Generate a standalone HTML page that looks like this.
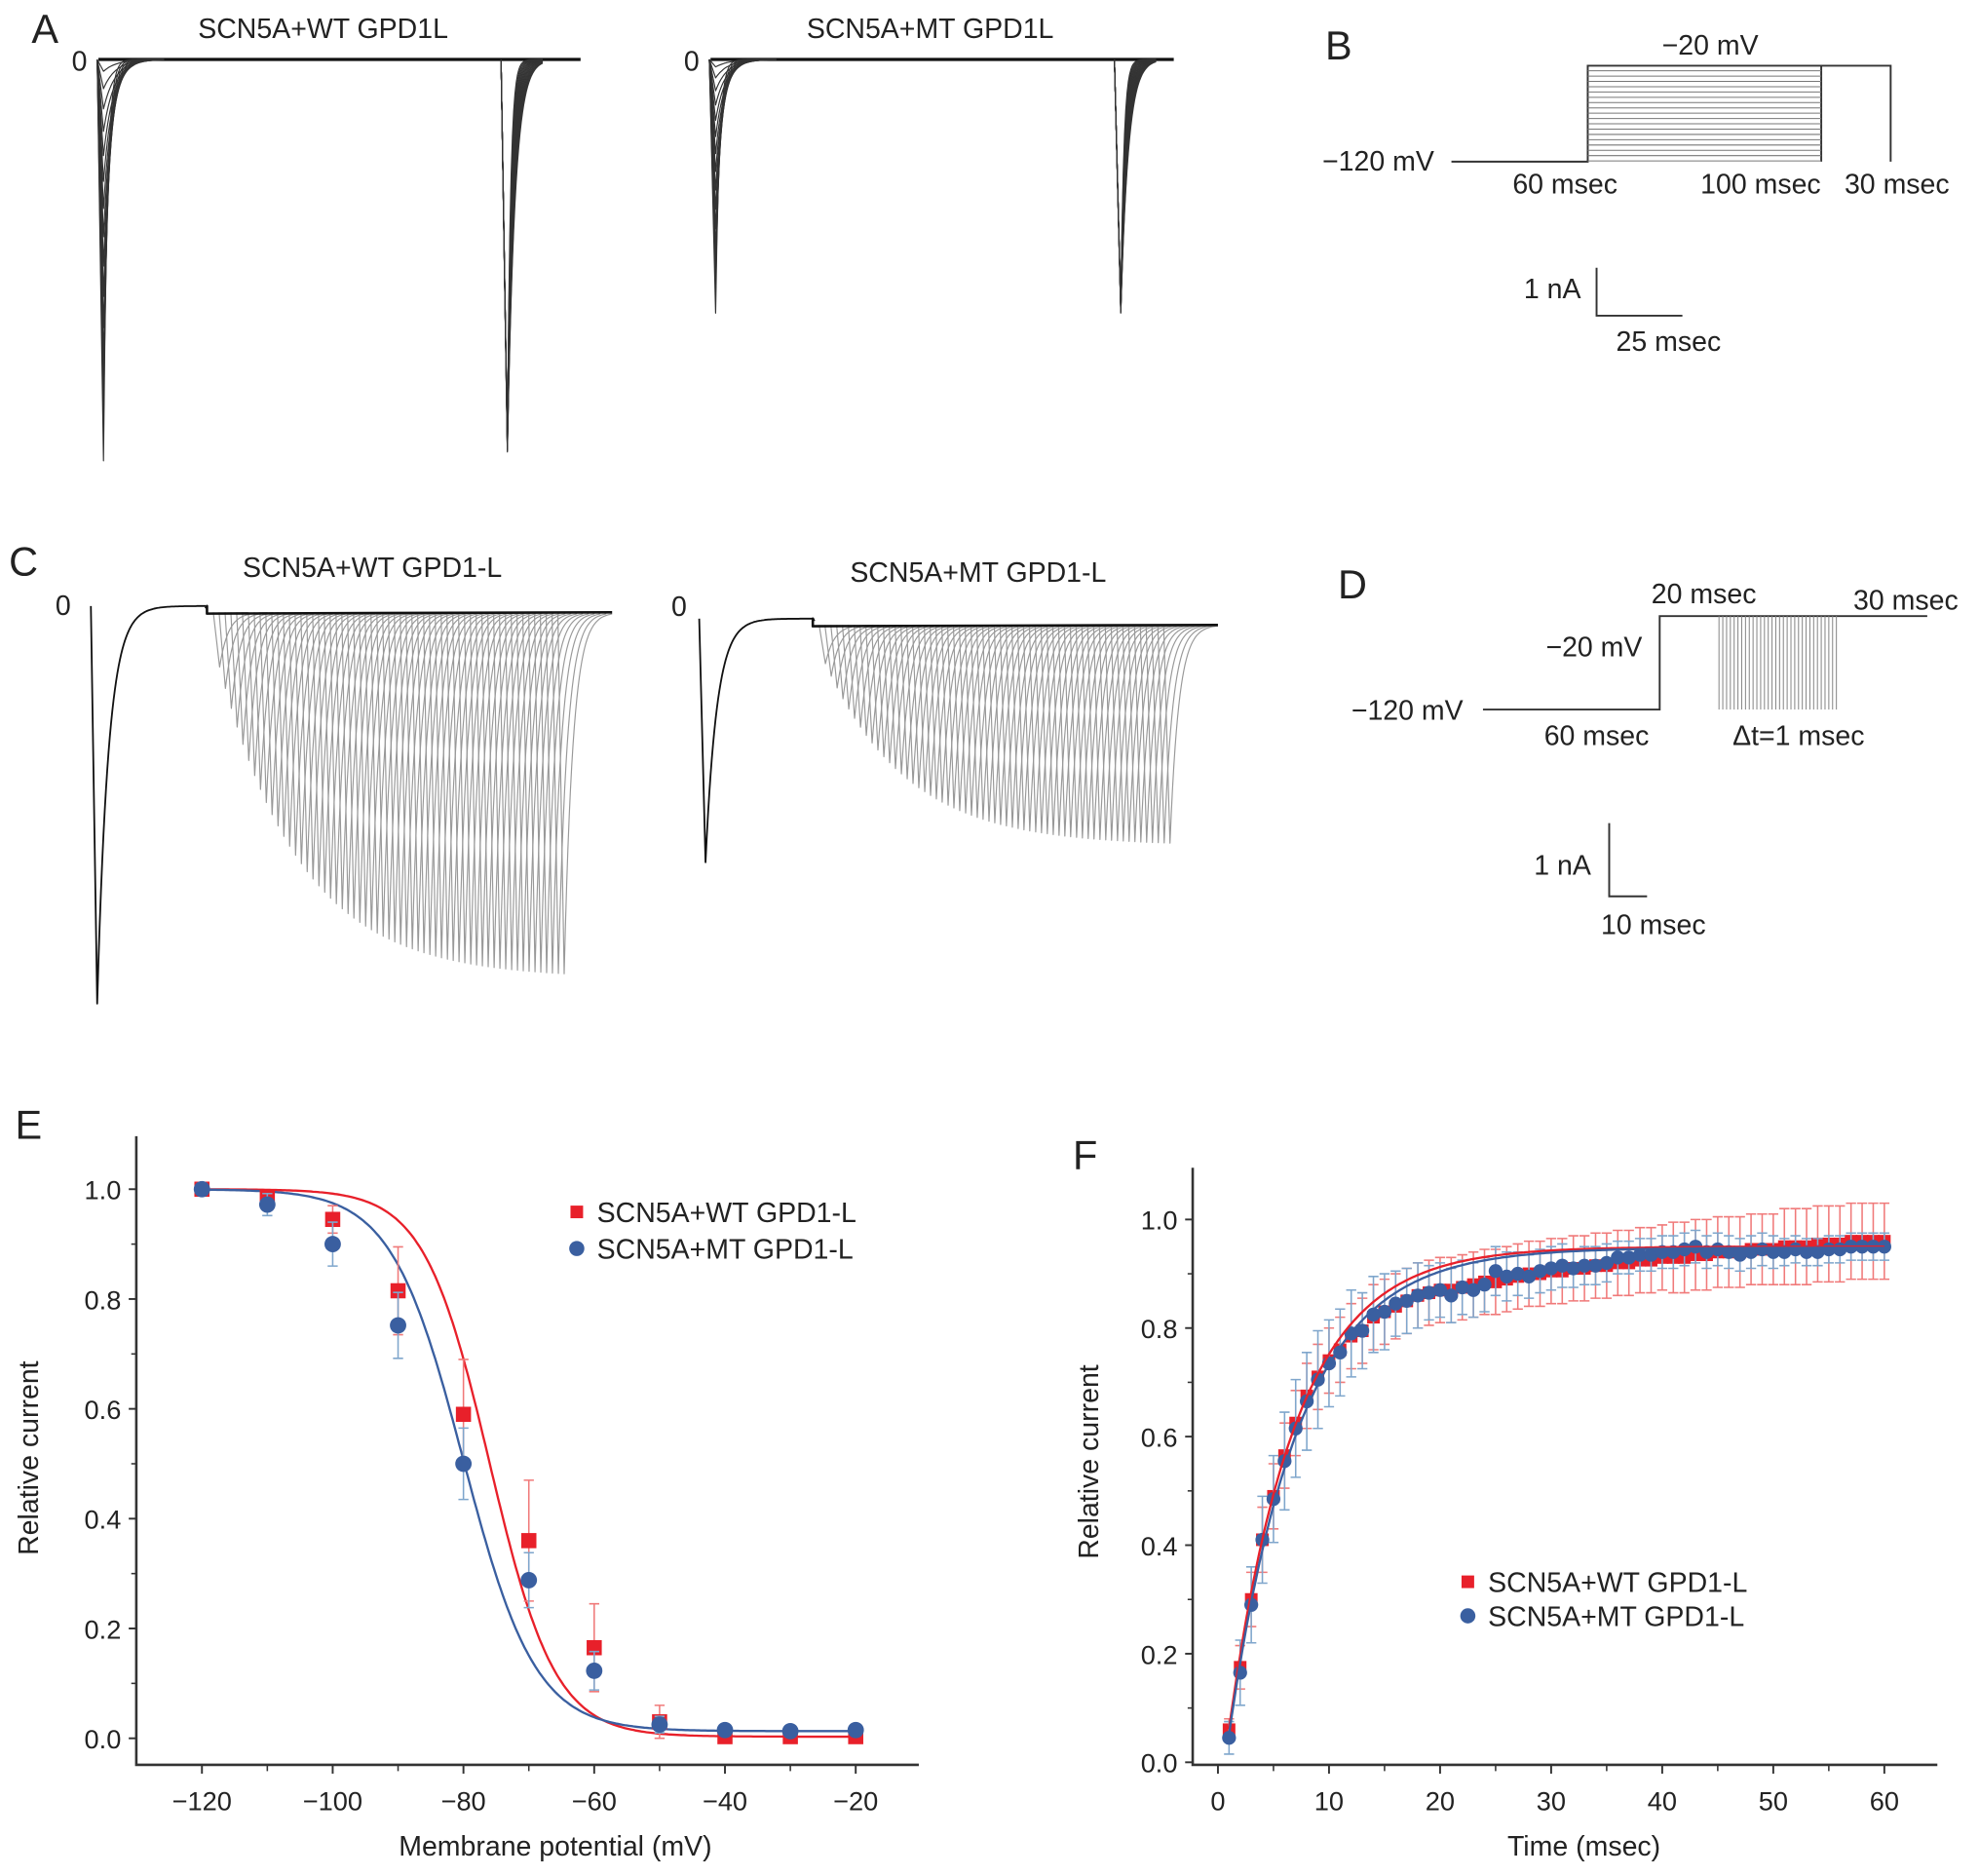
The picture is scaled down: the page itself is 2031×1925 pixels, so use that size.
<!DOCTYPE html>
<html><head><meta charset="utf-8"><style>
html,body{margin:0;padding:0;background:#fff}
svg{display:block}
text{font-family:"Liberation Sans",sans-serif;fill:#222}
</style></head><body>
<svg id="fig" width="2031" height="1925" viewBox="0 0 1568 1486" xmlns="http://www.w3.org/2000/svg">
<g id="letters" font-size="32">
<text x="25" y="34">A</text>
<text x="1050" y="47">B</text>
<text x="7" y="456">C</text>
<text x="1060" y="474">D</text>
<text x="12" y="902">E</text>
<text x="850" y="926">F</text>
</g>
<g id="titles" font-size="22" text-anchor="middle">
<text x="256" y="30">SCN5A+WT GPD1L</text>
<text x="737" y="30">SCN5A+MT GPD1L</text>
<text x="295" y="457">SCN5A+WT GPD1-L</text>
<text x="775" y="461">SCN5A+MT GPD1-L</text>
<text x="63" y="56">0</text>
<text x="548" y="56">0</text>
<text x="50" y="487">0</text>
<text x="538" y="488">0</text>
</g>
<g id="traces" fill="none" stroke-linejoin="round"></g>
<g stroke="#333" stroke-width="1.5" fill="none">
<path d="M1150 128 H1258 V52 H1498 V128"/>
<path d="M1443 52 V128"/>
<g id="hatchB" stroke="#777" stroke-width="0.8"></g>
<path d="M1265 212 V250 H1333"/>
</g>
<g font-size="22" text-anchor="middle">
<text x="1092" y="135">−120 mV</text><text x="1355" y="43">−20 mV</text>
<text x="1240" y="153">60 msec</text><text x="1395" y="153">100 msec</text><text x="1503" y="153">30 msec</text>
<text x="1230" y="236">1 nA</text><text x="1322" y="278">25 msec</text>
</g>
<g stroke="#333" stroke-width="1.5" fill="none">
<path d="M1175 562 H1315 V488 H1527"/>
<g id="hatchD" stroke="#888" stroke-width="0.8"></g>
<path d="M1275 652 V710 H1305"/>
</g>
<g font-size="22" text-anchor="middle">
<text x="1350" y="478">20 msec</text><text x="1510" y="483">30 msec</text>
<text x="1263" y="520">−20 mV</text><text x="1115" y="570">−120 mV</text>
<text x="1265" y="590">60 msec</text><text x="1425" y="590">Δt=1 msec</text>
<text x="1238" y="693">1 nA</text><text x="1310" y="740">10 msec</text>
</g>
<g id="chartE"></g>
<g id="chartF"></g>
</svg>
<script>
// ---------- Chart E data ----------
const eVolt = [-120,-110,-100,-90,-80,-70,-60,-50,-40,-30,-20];
const eWT = [1.0,0.985,0.945,0.815,0.59,0.36,0.165,0.03,0.003,0.003,0.003];
const eWTerr = [0.005,0.01,0.025,0.08,0.1,0.11,0.08,0.03,0.005,0.005,0.005];
const eMT = [1.0,0.972,0.9,0.752,0.5,0.288,0.123,0.025,0.015,0.013,0.015];
const eMTerr = [0.005,0.02,0.04,0.06,0.065,0.05,0.035,0.015,0.005,0.005,0.005];
const eXTicks = [-120,-100,-80,-60,-40,-20];
const eYTicks = [0.0,0.2,0.4,0.6,0.8,1.0];
const eFitWT = [-76,5.0,0.003];
const eFitMT = [-80,5.5,0.013];
// ---------- Chart F data ----------
const fTime = [1,2,3,4,5,6,7,8,9,10,11,12,13,14,15,16,17,18,19,20,21,22,23,24,25,26,27,28,29,30,31,32,33,34,35,36,37,38,39,40,41,42,43,44,45,46,47,48,49,50,51,52,53,54,55,56,57,58,59,60];
const fWT = [.06,.175,.30,.41,.49,.565,.625,.675,.71,.74,.76,.785,.795,.82,.83,.84,.85,.86,.865,.87,.87,.875,.88,.885,.885,.89,.895,.9,.9,.905,.905,.91,.91,.915,.915,.92,.92,.925,.925,.93,.93,.93,.935,.935,.94,.94,.94,.945,.945,.945,.95,.95,.95,.955,.955,.955,.96,.96,.96,.96];
const fWTerr = [.02,.04,.05,.06,.06,.06,.06,.06,.06,.06,.06,.06,.06,.06,.06,.06,.06,.06,.06,.06,.06,.06,.06,.06,.06,.06,.06,.06,.06,.06,.06,.06,.06,.06,.06,.06,.06,.06,.06,.06,.065,.065,.065,.065,.065,.065,.065,.065,.065,.065,.07,.07,.07,.07,.07,.07,.07,.07,.07,.07];
const fMT = [.045,.165,.29,.41,.485,.555,.615,.665,.705,.735,.755,.79,.795,.825,.83,.845,.85,.86,.865,.87,.86,.875,.87,.88,.905,.895,.9,.895,.905,.91,.915,.91,.915,.915,.92,.93,.93,.935,.935,.94,.94,.945,.95,.94,.945,.94,.935,.94,.945,.94,.94,.945,.94,.94,.945,.945,.95,.95,.95,.95];
const fMTerr = [.03,.06,.07,.08,.08,.09,.09,.09,.09,.08,.08,.08,.07,.07,.07,.06,.06,.06,.05,.05,.05,.05,.05,.05,.045,.045,.04,.04,.04,.04,.04,.035,.035,.035,.035,.03,.03,.03,.03,.03,.03,.03,.03,.03,.03,.03,.03,.03,.03,.03,.025,.025,.025,.025,.025,.025,.025,.025,.025,.025];
const fXTicks = [0,10,20,30,40,50,60];
const fYTicks = [0.0,0.2,0.4,0.6,0.8,1.0];
const fFitWT = [0.95,6.0,0.6];
const fFitMT = [0.948,6.3,0.65];

const NS='http://www.w3.org/2000/svg';
function mk(parent,tag,attrs){const e=document.createElementNS(NS,tag);for(const k in attrs)e.setAttribute(k,attrs[k]);parent.appendChild(e);return e;}
const RED='#e8202a', BLUE='#3a5fa0', LRED='#f07a7a', LBLUE='#7fa6cc';

function axes(g,o){
  const sx=v=>o.x0+(v-o.xmin)/(o.xmax-o.xmin)*(o.x1-o.x0);
  const sy=v=>o.y0-(v-o.ymin)/(o.ymax-o.ymin)*(o.y0-o.y1);
  const ax=mk(g,'path',{d:`M${o.ax} ${o.atop} V${o.abot} H${o.aright}`,stroke:'#333','stroke-width':2,fill:'none'});
  
  
  o.yticks.forEach(t=>{const y=sy(t);mk(g,'path',{d:`M${o.ax-6} ${y}H${o.ax}`,stroke:'#333','stroke-width':1.5});
    const tx=mk(g,'text',{x:o.ax-12,y:y+8,'font-size':21,'text-anchor':'end'});tx.textContent=t.toFixed(1);
    
    });
  for(let i=0;i<o.yticks.length-1;i++){const y=sy((o.yticks[i]+o.yticks[i+1])/2);mk(g,'path',{d:`M${o.ax-4} ${y}H${o.ax}`,stroke:'#333','stroke-width':1.2});}
  o.xticks.forEach((t,i)=>{const x=sx(t);mk(g,'path',{d:`M${x} ${o.abot}v7`,stroke:'#333','stroke-width':1.5});
    const tx=mk(g,'text',{x:x,y:o.abot+36,'font-size':21,'text-anchor':'middle'});tx.textContent=(t<0?'−'+(-t):t);
    
    
    if(i<o.xticks.length-1){const xm=sx((t+o.xticks[i+1])/2);mk(g,'path',{d:`M${xm} ${o.abot}v5`,stroke:'#333','stroke-width':1.2});}});
  const xt=mk(g,'text',{x:o.xtx,y:o.abot+72,'font-size':22,'text-anchor':'middle'});xt.textContent=o.xtitle;
  
  
  const yt=mk(g,'text',{x:0,y:0,'font-size':22,'text-anchor':'middle',transform:`translate(${o.ytx} ${o.yty}) rotate(-90)`});yt.textContent='Relative current';
  
  
  return [sx,sy];
}
function series(g,xs,ys,es,sx,sy,color,ecolor,shape,size,name){
  const sg=mk(g,'g',{});
  
  
  xs.forEach((x,i)=>{const px=sx(x),pt=sy(ys[i]+es[i]),pb=sy(ys[i]-es[i]);
    mk(sg,'path',{d:`M${px} ${pt}V${pb}M${px-4} ${pt}h8M${px-4} ${pb}h8`,stroke:ecolor,'stroke-width':1.2,fill:'none'});});
  xs.forEach((x,i)=>{const px=sx(x),py=sy(ys[i]);let m;
    if(shape==='sq')m=mk(sg,'rect',{x:px-size,y:py-size,width:size*2,height:size*2,fill:color});
    else m=mk(sg,'circle',{cx:px,cy:py,r:size,fill:color});
    
    });
}
function curve(g,f,x0,x1,sx,sy,color,name){let d='';for(let i=0;i<=300;i++){const x=x0+(x1-x0)*i/300;d+=(i?'L':'M')+sx(x).toFixed(1)+' '+sy(f(x)).toFixed(1);}
  const p=mk(g,'path',{d,stroke:color,'stroke-width':1.8,fill:'none'});
  
  }
function legend(g,x,y,gap){
  const items=[['SCN5A+WT GPD1-L',RED,'sq'],['SCN5A+MT GPD1-L',BLUE,'ci']];
  items.forEach((it,i)=>{const yy=y+i*gap;
    const lg=mk(g,'g',{});
    
    
    if(it[2]==='sq')mk(lg,'rect',{x:x-5,y:yy-5,width:10,height:10,fill:it[1]});else mk(lg,'circle',{cx:x,cy:yy,r:6,fill:it[1]});
    const t=mk(lg,'text',{x:x+16,y:yy+8,'font-size':22});t.textContent=it[0];});
}
(function(){
  const g=document.getElementById('chartE');
  const [sx,sy]=axes(g,{x0:160,x1:678,xmin:-120,xmax:-20,y0:1377,y1:942,ymin:0,ymax:1,ax:108,atop:900,abot:1398,aright:728,
    xticks:eXTicks,yticks:eYTicks,xtitle:'Membrane potential (mV)',xtx:440,ytx:30,yty:1155});
  const bz=p=>v=>p[2]+(1-p[2])/(1+Math.exp((v-p[0])/p[1]));
  curve(g,bz(eFitWT),-120,-20,sx,sy,RED,'fit-wt');
  curve(g,bz(eFitMT),-120,-20,sx,sy,BLUE,'fit-mt');
  series(g,eVolt,eWT,eWTerr,sx,sy,RED,LRED,'sq',6,'series-wt');
  series(g,eVolt,eMT,eMTerr,sx,sy,BLUE,LBLUE,'ci',6.5,'series-mt');
  legend(g,457,960,29);
})();
(function(){
  const g=document.getElementById('chartF');
  const [sx,sy]=axes(g,{x0:965,x1:1493,xmin:0,xmax:60,y0:1396,y1:966,ymin:0,ymax:1,ax:945,atop:925,abot:1398,aright:1535,
    xticks:fXTicks,yticks:fYTicks,xtitle:'Time (msec)',xtx:1255,ytx:870,yty:1158});
  series(g,fTime,fWT,fWTerr,sx,sy,RED,LRED,'sq',5,'series-wt');
  series(g,fTime,fMT,fMTerr,sx,sy,BLUE,LBLUE,'ci',5.5,'series-mt');
  const ex=p=>t=>p[0]*(1-Math.exp(-(t-p[2])/p[1]));
  curve(g,ex(fFitWT),1,60,sx,sy,RED,'fit-wt');
  curve(g,ex(fFitMT),1,60,sx,sy,BLUE,'fit-mt');
  legend(g,1163,1253,27);
})();
// ---------- Current traces (illustrative) ----------
const tg=document.getElementById('traces');
function pline(pts,color,w,name){const p=mk(tg,'polyline',{points:pts.map(q=>q[0].toFixed(1)+','+q[1].toFixed(1)).join(' '),stroke:color,'stroke-width':w,fill:'none'});
  
  }
function spike(x0,base,depth,tau,len){const pts=[[x0-3,base],[x0+2,base+depth]];for(let x=2;x<=len;x+=1)pts.push([x0+x,base+depth*Math.exp(-(x-2)/tau)]);return pts;}
function panelA(x0,x1,x2,base,d1,d2){
  pline([[x0,base],[x1,base]],'#111',2.5,'trace-baseline');
  for(let i=0;i<15;i++){const f=(i+1)/15;
    pline(spike(x0+2,base,d1*Math.pow(f,1.3),3+(1-f)*8,50),'#333',0.9,'trace-conditioning');
    pline(spike(x2,base,d2*(0.97+0.03*f),2.5+i*0.25,30),'#333',0.9,'trace-test');}
}
panelA(78,460,400,47,318,311);
panelA(563,930,886,47,201,201);
const hb=document.getElementById('hatchB');for(let y=56;y<128;y+=4.2)mk(hb,'path',{d:`M1258 ${y}H1443`});
const hd=document.getElementById('hatchD');for(let x=1362;x<=1457;x+=3)mk(hd,'path',{d:`M${x} 488V562`});
function panelC(xs,base,d0,xStart,xEnd,dMin,dMax,n){
  pline(spike(xs,base,d0,9,88),'#111',1.4,'trace-prepulse');
  for(let k=0;k<n;k++){const x=xStart+(xEnd-xStart)*k/(n-1);const d=dMin+(dMax-dMin)*(1-Math.exp(-(k+1)/14));
    pline(spike(x,base+5,d,7,40),'#999',0.9,'trace-recovery');}
  pline([[xs+88,base+2],[xStart-8,base],[xStart-8,base+6],[xEnd+40,base+5]],'#111',2,'trace-top');
}
panelC(75,480,315,172,445,25,290,60);
panelC(557,490,193,652,925,20,175,60);
</script>
</body></html>
